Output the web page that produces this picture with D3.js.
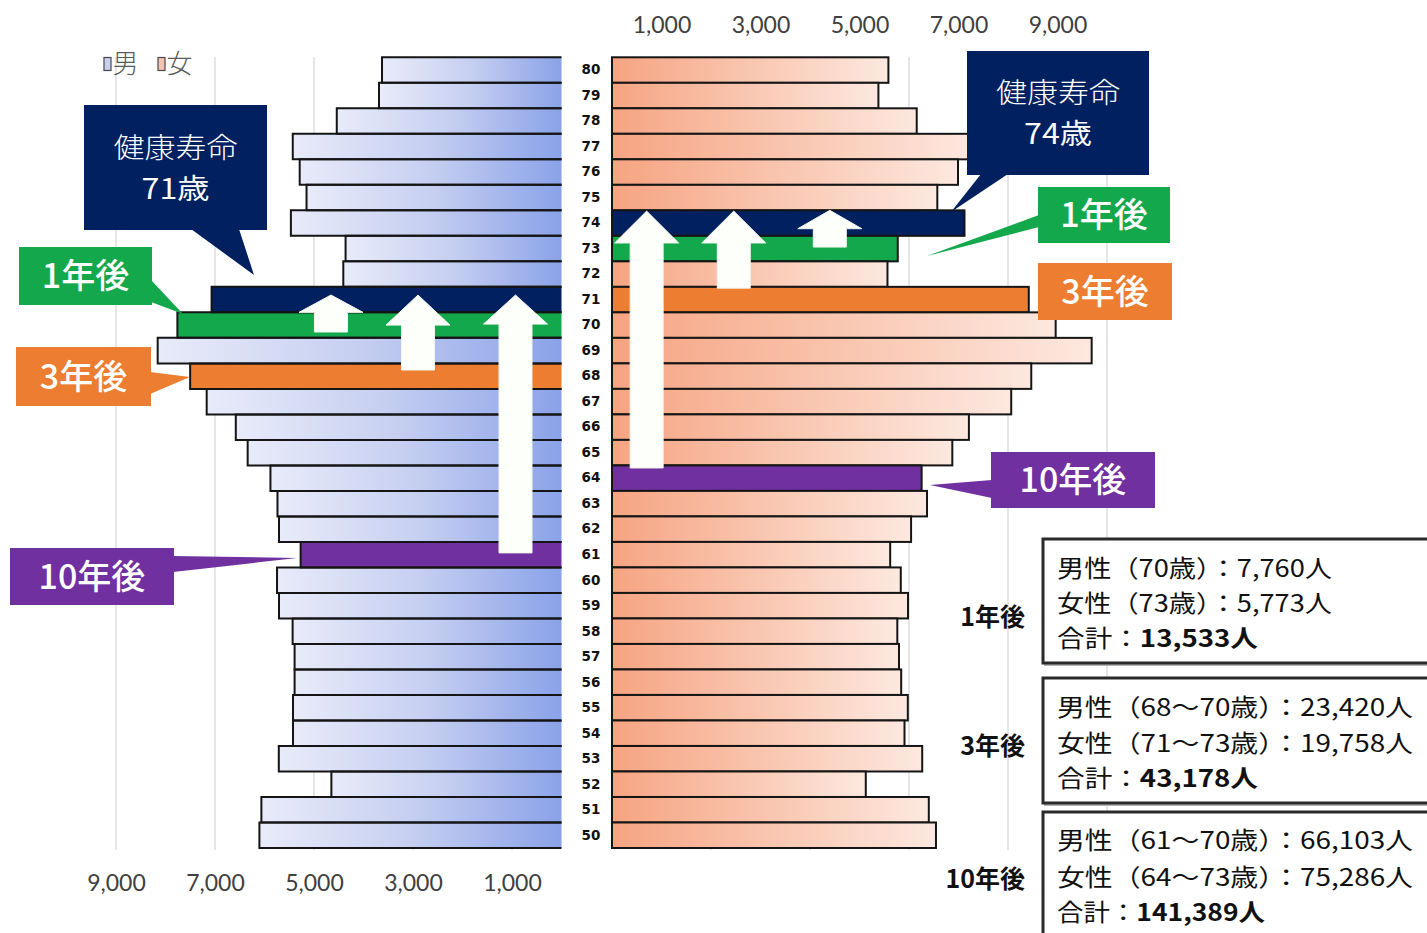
<!DOCTYPE html>
<html lang="ja">
<head>
<meta charset="utf-8">
<title>健康寿命と年齢別人口</title>
<script src="https://cdn.jsdelivr.net/npm/d3@7"></script>
<style>
  html, body { margin: 0; padding: 0; background: #fff; }
  svg { display: block; }
</style>
</head>
<body>
<svg id="chart" width="1427" height="933"></svg>
<script>
// ---- data -----------------------------------------------------------
const ages = d3.range(80, 49, -1);   // 80 .. 50
const maleCounts = [
  3626, 3687, 4540, 5429, 5289, 5151, 5467, 4362, 4408, 7069,   // 80-71
  7760, 8158, 7502, 7168, 6580, 6340, 5880, 5738, 5707, 5270,   // 70-61
  5747, 5707, 5432, 5392, 5392, 5424, 5424, 5711, 4649, 6063,   // 60-51
  6103                                                          // 50
];
const femaleCounts = [
  5584, 5382, 6156, 7300, 6990, 6572, 7121, 5773, 5565, 8420,   // 80-71
  8963, 9690, 8470, 8065, 7210, 6875, 6255, 6364, 6042, 5620,   // 70-61
  5834, 5980, 5764, 5798, 5842, 5976, 5909, 6267, 5127, 6400,   // 60-51
  6545                                                          // 50
];
const axisTicks = [1000, 3000, 5000, 7000, 9000];
const femaleGridTicks = [2000, 4000, 6000, 8000, 10000];
const legendLabels = ["男", "女"];
const healthyLifeMale = 71;
const healthyLifeFemale = 74;
// highlighted ages: [age, group]
const maleMarked = [[71, "life"], [70, "y1"], [68, "y3"], [61, "y10"]];
const femaleMarked = [[74, "life"], [73, "y1"], [71, "y3"], [64, "y10"]];
const periodLabels = ["1年後", "3年後", "10年後"];
const periodMaleAges = [[70, 70], [68, 70], [61, 70]];
const periodFemaleAges = [[73, 73], [71, 73], [64, 73]];

// ---- styles ---------------------------------------------------------
const groupColor = { life: "#002060", y1: "#14a84c", y3: "#ed7d31", y10: "#7030a0" };
const fmt = d3.format(",");
const cjk = "'Noto Sans CJK JP', 'Noto Sans CJK SC', sans-serif";

const svg = d3.select("#chart");
const defs = svg.append("defs");

function gradient(id, stops) {
  defs.append("linearGradient").attr("id", id)
    .attr("x1", 0).attr("x2", 1).attr("y1", 0).attr("y2", 0)
    .selectAll("stop").data(stops).join("stop")
    .attr("offset", d => d[0]).attr("stop-color", d => d[1]);
}
gradient("gMale", [[0, "#e8ebf9"], [0.5, "#c6cff1"], [1, "#8aa2e8"]]);
gradient("gFemale", [[0, "#f6a482"], [0.5, "#f9c6b0"], [1, "#fde8df"]]);

// ---- scales ---------------------------------------------------------
const xM = d3.scaleLinear().domain([0, 10000]).range([561.5, 66.5]);
const xF = d3.scaleLinear().domain([0, 10000]).range([612, 1107]);
const y = d3.scaleBand().domain(ages).range([57.3, 848]).padding(0);
const yAge = d3.scaleLinear().domain([80.5, 49.5]).range([57.3, 848]);

const maleMap = new Map(ages.map((a, i) => [a, maleCounts[i]]));
const femaleMap = new Map(ages.map((a, i) => [a, femaleCounts[i]]));
const maleMark = new Map(maleMarked);
const femaleMark = new Map(femaleMarked);

// ---- gridlines ------------------------------------------------------
const grid = svg.append("g").attr("stroke", "#d9d9d9").attr("stroke-width", 1.3);
grid.selectAll("line.m").data(axisTicks).join("line").attr("class", "m")
  .attr("x1", d => xM(d)).attr("x2", d => xM(d)).attr("y1", 57).attr("y2", 850);
grid.selectAll("line.f").data(femaleGridTicks).join("line").attr("class", "f")
  .attr("x1", d => xF(d)).attr("x2", d => xF(d)).attr("y1", 57).attr("y2", 850);

// ---- bars -----------------------------------------------------------
const bw = y.bandwidth();
const rows = ages.map(a => ({ age: a, m: maleMap.get(a), f: femaleMap.get(a) }));

const maleG = svg.append("g");
maleG.selectAll("rect").data(rows).join("rect")
  .attr("x", d => xM(d.m)).attr("y", d => y(d.age))
  .attr("width", d => xM(0) - xM(d.m)).attr("height", bw)
  .attr("fill", d => maleMark.has(d.age) ? groupColor[maleMark.get(d.age)] : "url(#gMale)");
maleG.selectAll("path").data(rows).join("path")
  .attr("d", d => `M${xM(0)},${y(d.age)}H${xM(d.m)}V${y(d.age) + bw}H${xM(0)}`)
  .attr("fill", "none").attr("stroke", "#151515").attr("stroke-width", 2);

const femaleG = svg.append("g");
femaleG.selectAll("rect").data(rows).join("rect")
  .attr("x", xF(0)).attr("y", d => y(d.age))
  .attr("width", d => xF(d.f) - xF(0)).attr("height", bw)
  .attr("fill", d => femaleMark.has(d.age) ? groupColor[femaleMark.get(d.age)] : "url(#gFemale)")
  .attr("stroke", "#151515").attr("stroke-width", 2);

// ---- up arrows (ageing of cohorts) ----------------------------------
const arrows = [
  { x: xM, v: 4657, tip: 71.18, neck: 70.5, base: 69.73 },
  { x: xM, v: 2899, tip: 71.18, neck: 70.0, base: 68.24 },
  { x: xM, v: 929,  tip: 71.18, neck: 70.04, base: 61.07 },
  { x: xF, v: 700,  tip: 74.47, neck: 73.22, base: 64.4 },
  { x: xF, v: 2460, tip: 74.47, neck: 73.22, base: 71.45 },
  { x: xF, v: 4400, tip: 74.5,  neck: 73.78, base: 73.06 }
];
const headHalf = 32, shaftHalf = 16.5;
svg.append("g").selectAll("polygon").data(arrows).join("polygon")
  .attr("points", d => {
    const cx = d.x(d.v), t = yAge(d.tip), n = yAge(d.neck), b = yAge(d.base);
    return [[cx, t], [cx + headHalf, n], [cx + shaftHalf, n], [cx + shaftHalf, b],
            [cx - shaftHalf, b], [cx - shaftHalf, n], [cx - headHalf, n]].join(" ");
  })
  .attr("fill", "#fdfffb").attr("stroke", "#f1f4ee").attr("stroke-width", 1);

// ---- axes -----------------------------------------------------------
const tickFont = "Lato, 'Liberation Sans', sans-serif";
svg.append("g").attr("transform", "translate(0,33)")
  .call(d3.axisTop(xF).tickValues(axisTicks).tickFormat(fmt).tickSize(0).tickPadding(0))
  .call(g => g.select(".domain").remove())
  .attr("font-family", tickFont).attr("font-size", 23)
  .selectAll("text").attr("fill", "#404040");

svg.append("g").attr("transform", "translate(0,875)")
  .call(d3.axisBottom(xM).tickValues(axisTicks).tickFormat(fmt).tickSize(0).tickPadding(0))
  .call(g => g.select(".domain").remove())
  .attr("font-family", tickFont).attr("font-size", 23)
  .selectAll("text").attr("fill", "#404040");

svg.append("g").attr("transform", "translate(591,0)")
  .call(d3.axisLeft(y).tickSize(0).tickPadding(0))
  .call(g => g.select(".domain").remove())
  .attr("font-family", "'DejaVu Sans', sans-serif").attr("font-size", 13.5).attr("font-weight", "bold")
  .selectAll("text").attr("x", 0).attr("text-anchor", "middle").attr("fill", "#111");

// ---- legend ---------------------------------------------------------
const legend = svg.append("g");
[[104, "#c9cff0"], [158, "#f1c3b0"]].forEach((s, i) => {
  legend.append("rect").attr("x", s[0]).attr("y", 57.5).attr("width", 7).attr("height", 13)
    .attr("fill", s[1]).attr("stroke", "#4a4a4a").attr("stroke-width", 1.2);
  legend.append("text").attr("x", s[0] + 8.5).attr("y", 73).text(legendLabels[i])
    .attr("font-family", cjk).attr("font-size", 26).attr("font-weight", 300).attr("fill", "#5a5a5a");
});

// ---- callouts -------------------------------------------------------
const callouts = [
  { box: [84, 105, 183, 125], c: "life", lines: ["健康寿命", `${healthyLifeMale}歳`],
    tail: [[191, 229], [239, 229], [254, 275]] },
  { box: [967, 51, 182, 124], c: "life", lines: ["健康寿命", `${healthyLifeFemale}歳`],
    tail: [[981, 174], [1008, 174], [951, 212]] },
  { box: [19, 247, 133, 58], c: "y1", lines: [periodLabels[0]],
    tail: [[151, 280], [151, 302], [183, 314]] },
  { box: [1038, 187, 132, 56], c: "y1", lines: [periodLabels[0]],
    tail: [[1039, 215], [1039, 227], [927, 256]] },
  { box: [16, 347, 135, 59], c: "y3", lines: [periodLabels[1]],
    tail: [[150, 372], [150, 394], [190, 377]] },
  { box: [1038, 263, 134, 57], c: "y3", lines: [periodLabels[1]], tail: null },
  { box: [10, 548, 164, 57], c: "y10", lines: [periodLabels[2]],
    tail: [[173, 556], [173, 572], [297, 558]] },
  { box: [991, 452, 164, 56], c: "y10", lines: [periodLabels[2]],
    tail: [[992, 480], [992, 498], [930, 485]] }
];
const cg = svg.append("g");
callouts.forEach(co => {
  const [bx, by, bwid, bh] = co.box;
  const col = groupColor[co.c];
  if (co.tail) cg.append("polygon").attr("points", co.tail.join(" ")).attr("fill", col);
  cg.append("rect").attr("x", bx).attr("y", by).attr("width", bwid).attr("height", bh).attr("fill", col);
  const cx = bx + bwid / 2, cy = by + bh / 2;
  const txt = () => cg.append("text").attr("x", cx).attr("text-anchor", "middle")
    .attr("font-family", cjk).attr("fill", "#fff");
  if (co.lines.length === 2) {
    txt().attr("y", cy - 10).attr("font-size", 28).attr("font-weight", 300)
      .attr("textLength", 124).attr("lengthAdjust", "spacingAndGlyphs").text(co.lines[0]);
    txt().attr("y", cy + 31).attr("font-size", 28).attr("font-weight", 400)
      .attr("textLength", 68).attr("lengthAdjust", "spacingAndGlyphs").text(co.lines[1]);
  } else {
    txt().attr("y", cy + 12).attr("font-size", 34).attr("font-weight", 500).text(co.lines[0]);
  }
});

// ---- period summaries -----------------------------------------------
function sumRange(map, [lo, hi]) { return d3.sum(d3.range(lo, hi + 1), a => map.get(a)); }
function ageText([lo, hi]) { return lo === hi ? `${lo}歳` : `${lo}～${hi}歳`; }

const infoBoxes = [
  { top: 539, h: 124, lineY: [577, 612, 647], widths: [275, 275, 201], labelY: 626 },
  { top: 678, h: 125, lineY: [716, 752, 787], widths: [356, 356, 201], labelY: 755 },
  { top: 812, h: 140, lineY: [849, 886, 921], widths: [356, 356, 208], labelY: 888 }
];
const ig = svg.append("g");
infoBoxes.forEach((b, i) => {
  const m = sumRange(maleMap, periodMaleAges[i]);
  const f = sumRange(femaleMap, periodFemaleAges[i]);
  ig.append("rect").attr("x", 1045).attr("y", b.top + 2).attr("width", 420).attr("height", b.h)
    .attr("fill", "none").attr("stroke", "#b5b5b5").attr("stroke-width", 2);
  ig.append("rect").attr("x", 1043).attr("y", b.top).attr("width", 420).attr("height", b.h)
    .attr("fill", "#fff").attr("stroke", "#2a2a2a").attr("stroke-width", 3);

  // each summary line is stretched to its column width
  const line = k => ig.append("text").attr("x", 1057).attr("y", b.lineY[k])
    .attr("font-family", cjk).attr("font-size", 24).attr("fill", "#111")
    .attr("textLength", b.widths[k]).attr("lengthAdjust", "spacingAndGlyphs");
  line(0).text(`男性（${ageText(periodMaleAges[i])}）：${fmt(m)}人`);
  line(1).text(`女性（${ageText(periodFemaleAges[i])}）：${fmt(f)}人`);
  const l3 = line(2);
  l3.append("tspan").text("合計：");
  l3.append("tspan").attr("font-weight", "bold").text(`${fmt(m + f)}人`);

  ig.append("text").attr("x", 1025).attr("y", b.labelY)
    .attr("text-anchor", "end").attr("font-family", cjk).attr("font-size", 25)
    .attr("font-weight", "bold").attr("fill", "#111").text(periodLabels[i]);
});
</script>
</body>
</html>
